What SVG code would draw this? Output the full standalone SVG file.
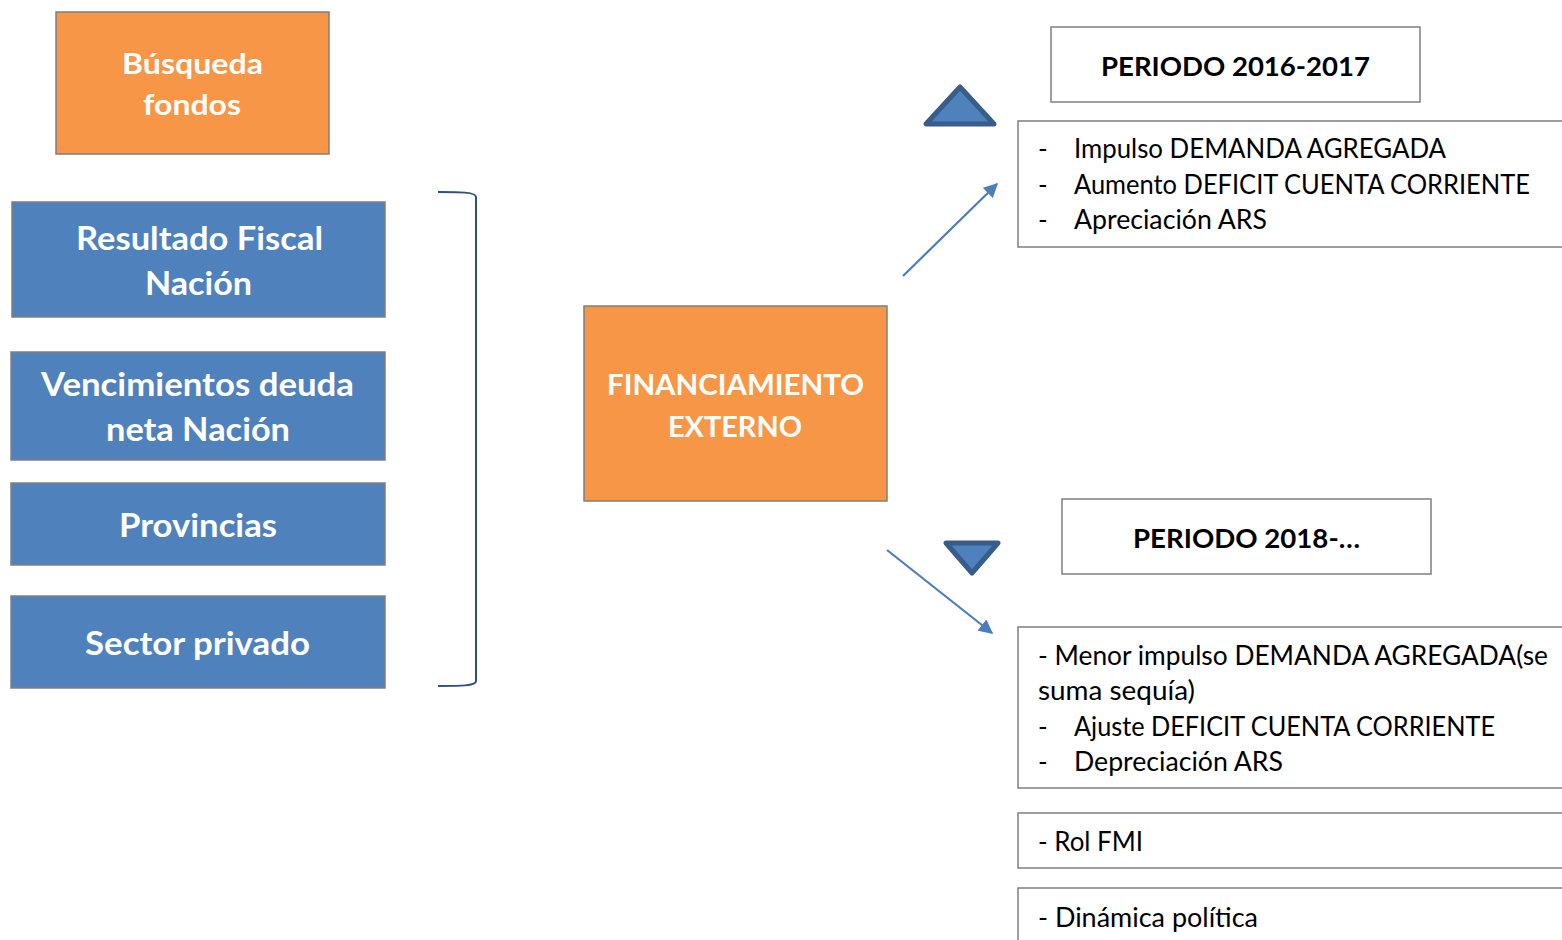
<svg xmlns="http://www.w3.org/2000/svg" width="1562" height="940" viewBox="0 0 1562 940">
<defs>
<style>
.or{fill:#F79646;stroke:#7F7F7F;stroke-width:1.5}
.bl{fill:#4F81BD;stroke:#7F7F7F;stroke-width:1.5}
.wb{fill:#fff;stroke:#7F7F7F;stroke-width:1.5}
.wt{fill:#fff;font-family:Lato,"Open Sans",sans-serif;font-weight:bold;text-anchor:middle}
.bt{fill:#000;font-family:Lato,"Open Sans",sans-serif;font-weight:bold;text-anchor:middle;font-size:27px}
.rt{fill:#000;font-family:Lato,"Open Sans",sans-serif;font-size:26px}
.tri{fill:#4F81BD;stroke:#385D8A;stroke-width:5;stroke-linejoin:round}
.con{stroke:#4A7EBB;stroke-width:2.2;fill:none}
</style>
<marker id="ah" viewBox="0 0 10 10" refX="9" refY="5" markerWidth="6.5" markerHeight="6.5" orient="auto" markerUnits="strokeWidth">
<path d="M0,0 L10,5 L0,10 z" fill="#4A7EBB"/>
</marker>
</defs>
<rect width="1562" height="940" fill="#fff"/>

<g id="busqueda">
<rect class="or" x="56" y="12" width="273" height="142"/>
<text class="wt" font-size="29" x="192.5" y="74" textLength="141" lengthAdjust="spacingAndGlyphs">Búsqueda</text>
<text class="wt" font-size="29" x="192" y="115" textLength="98" lengthAdjust="spacingAndGlyphs">fondos</text>
</g>

<g id="resultado">
<rect class="bl" x="12" y="202" width="373" height="115"/>
<text class="wt" font-size="33" x="199.5" y="250" textLength="247" lengthAdjust="spacingAndGlyphs">Resultado Fiscal</text>
<text class="wt" font-size="33" x="198.5" y="295" textLength="107" lengthAdjust="spacingAndGlyphs">Nación</text>
</g>

<g id="vencimientos">
<rect class="bl" x="11" y="352" width="374" height="108"/>
<text class="wt" font-size="33" x="197.5" y="396" textLength="313" lengthAdjust="spacingAndGlyphs">Vencimientos deuda</text>
<text class="wt" font-size="33" x="198" y="441" textLength="184" lengthAdjust="spacingAndGlyphs">neta Nación</text>
</g>

<g id="provincias">
<rect class="bl" x="11" y="483" width="374" height="82"/>
<text class="wt" font-size="33" x="198" y="537" textLength="158" lengthAdjust="spacingAndGlyphs">Provincias</text>
</g>

<g id="sector">
<rect class="bl" x="11" y="596" width="374" height="92"/>
<text class="wt" font-size="33" x="197.5" y="655" textLength="225" lengthAdjust="spacingAndGlyphs">Sector privado</text>
</g>

<g id="bracket">
<path d="M438,192 C460,192 476,192 476,197 L476,681 C476,686 460,686 438,686" fill="none" stroke="#2F4F7F" stroke-width="2"/>
</g>

<g id="financiamiento">
<rect class="or" x="584" y="306" width="303" height="195"/>
<text class="wt" font-size="29" x="735.5" y="395" textLength="257" lengthAdjust="spacingAndGlyphs">FINANCIAMIENTO</text>
<text class="wt" font-size="29" x="735" y="437" textLength="134" lengthAdjust="spacingAndGlyphs">EXTERNO</text>
</g>

<g id="tri-up">
<polygon class="tri" points="960,87 926,124 994,124"/>
</g>
<g id="tri-down">
<polygon class="tri" points="946,543 998,543 972,573"/>
</g>

<g id="periodo1">
<rect class="wb" x="1051" y="27" width="369" height="75"/>
<text class="bt" x="1235.5" y="76" textLength="269" lengthAdjust="spacingAndGlyphs">PERIODO 2016-2017</text>
</g>

<g id="efectos1">
<rect class="wb" x="1018" y="121" width="560" height="126"/>
<text class="rt" x="1038" y="158">-</text>
<text class="rt" x="1074" y="158" textLength="372" lengthAdjust="spacingAndGlyphs">Impulso DEMANDA AGREGADA</text>
<text class="rt" x="1038" y="194">-</text>
<text class="rt" x="1074" y="194" textLength="456" lengthAdjust="spacingAndGlyphs">Aumento DEFICIT CUENTA CORRIENTE</text>
<text class="rt" x="1038" y="229">-</text>
<text class="rt" x="1074" y="229" textLength="193" lengthAdjust="spacingAndGlyphs">Apreciación ARS</text>
</g>

<g id="periodo2">
<rect class="wb" x="1062" y="499" width="369" height="75"/>
<text class="bt" x="1246.5" y="548" textLength="227" lengthAdjust="spacingAndGlyphs">PERIODO 2018-…</text>
</g>

<g id="efectos2">
<rect class="wb" x="1018" y="627" width="560" height="161"/>
<text class="rt" x="1038" y="665" textLength="510" lengthAdjust="spacingAndGlyphs">- Menor impulso DEMANDA AGREGADA(se</text>
<text class="rt" x="1038" y="700" textLength="157" lengthAdjust="spacingAndGlyphs">suma sequía)</text>
<text class="rt" x="1038" y="736">-</text>
<text class="rt" x="1074" y="736" textLength="421" lengthAdjust="spacingAndGlyphs">Ajuste DEFICIT CUENTA CORRIENTE</text>
<text class="rt" x="1038" y="771">-</text>
<text class="rt" x="1074" y="771" textLength="209" lengthAdjust="spacingAndGlyphs">Depreciación ARS</text>
</g>

<g id="rolfmi">
<rect class="wb" x="1018" y="813" width="560" height="55"/>
<text class="rt" x="1038" y="851" textLength="105" lengthAdjust="spacingAndGlyphs">- Rol FMI</text>
</g>

<g id="dinamica">
<rect class="wb" x="1018" y="888" width="560" height="80"/>
<text class="rt" x="1038" y="927" textLength="220" lengthAdjust="spacingAndGlyphs">- Dinámica política</text>
</g>

<g id="connectors">
<line class="con" x1="903" y1="276" x2="997" y2="184" marker-end="url(#ah)"/>
<line class="con" x1="887" y1="550" x2="992" y2="633" marker-end="url(#ah)"/>
</g>
</svg>
